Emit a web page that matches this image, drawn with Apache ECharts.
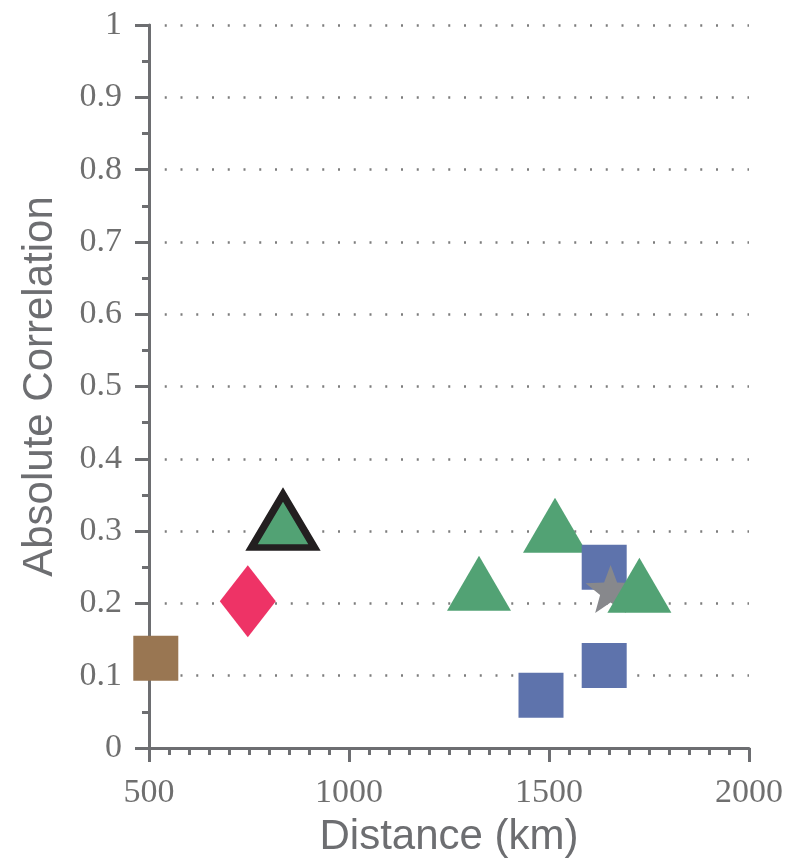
<!DOCTYPE html>
<html>
<head>
<meta charset="utf-8">
<script src="https://cdn.jsdelivr.net/npm/echarts@6/dist/echarts.min.js"></script>
<style>
html,body{margin:0;padding:0;background:#fff;}
#chart{width:788px;height:860px;}
</style>
</head>
<body>
<div id="chart"></div>
<script>
// ---- data (Distance km, Absolute Correlation) ----
var brownSquares = [[517, 0.124]];
var pinkDiamonds = [[747, 0.203]];
var greenTrianglesA = [[1325, 0.228], [1515, 0.308]];
var blueSquares = [[1638, 0.250], [1638, 0.114], [1480, 0.073]];
var grayStars = [[1654, 0.220]];
var greenTrianglesB = [[1726, 0.225]];
var outlinedTriangles = [[835, 0.314]];

var xTicks = [500, 1000, 1500, 2000];
var yTicks = [0, 0.1, 0.2, 0.3, 0.4, 0.5, 0.6, 0.7, 0.8, 0.9, 1];

// star symbol shape
function starPath(R, r) {
  var pts = [];
  for (var i = 0; i < 10; i++) {
    var a = (-90 + i * 36) * Math.PI / 180;
    var rad = (i % 2 === 0) ? R : r;
    pts.push((100 + rad * Math.cos(a)).toFixed(2) + ' ' + (100 + rad * Math.sin(a)).toFixed(2));
  }
  return 'path://M' + pts.join(' L') + ' Z';
}
var STAR = starPath(100, 42);

var axisColor = '#6d6e71';
var labelColor = '#6f6f6f';

var chart = echarts.init(document.getElementById('chart'), null, {renderer: 'canvas'});
chart.setOption({
  backgroundColor: '#ffffff',
  animation: false,
  grid: {left: 149, right: 39, top: 25, bottom: 112, containLabel: false, outerBoundsMode: 'none'},
  xAxis: {
    type: 'value',
    min: xTicks[0], max: xTicks[xTicks.length - 1], interval: 500,
    name: 'Distance (km)', nameLocation: 'middle', nameGap: 68,
    nameTextStyle: {fontFamily: 'Liberation Sans', fontSize: 42, color: axisColor},
    axisLine: {show: true, onZero: false, lineStyle: {color: axisColor, width: 3}},
    axisTick: {show: true, inside: false, length: 14, lineStyle: {color: axisColor, width: 3}},
    minorTick: {show: true, splitNumber: 10, length: 7, lineStyle: {color: axisColor, width: 3}},
    axisLabel: {margin: 28, fontFamily: 'Liberation Serif', fontSize: 34, color: labelColor,
      formatter: function (v) { return String(v); }},
    splitLine: {show: false}
  },
  yAxis: {
    type: 'value',
    min: yTicks[0], max: yTicks[yTicks.length - 1], interval: 0.1,
    name: 'Absolute Correlation', nameLocation: 'middle', nameGap: 88, nameRotate: 90,
    nameTextStyle: {fontFamily: 'Liberation Sans', fontSize: 42, color: axisColor},
    axisLine: {show: true, onZero: false, lineStyle: {color: axisColor, width: 3}},
    axisTick: {show: true, inside: false, length: 14, lineStyle: {color: axisColor, width: 3}},
    minorTick: {show: true, splitNumber: 2, length: 7, lineStyle: {color: axisColor, width: 3}},
    axisLabel: {margin: 27, fontFamily: 'Liberation Serif', fontSize: 34, color: labelColor,
      formatter: function (v) { return String(Math.round(v * 10) / 10); }},
    splitLine: {show: true, lineStyle: {color: '#7d7d7d', width: 2.5, type: [2, 13.75], dashOffset: 0}}
  },
  series: [
    {type: 'scatter', data: brownSquares, symbol: 'rect', symbolSize: 45,
      itemStyle: {color: '#997652', opacity: 1}},
    {type: 'scatter', data: pinkDiamonds, symbol: 'diamond', symbolSize: [56, 72],
      itemStyle: {color: '#ee3366', opacity: 1}},
    {type: 'scatter', data: greenTrianglesA, symbol: 'triangle', symbolSize: [64, 55],
      itemStyle: {color: '#52a274', opacity: 1}},
    {type: 'scatter', data: blueSquares, symbol: 'rect', symbolSize: 45,
      itemStyle: {color: '#5e73ac', opacity: 1}},
    {type: 'scatter', data: grayStars, symbol: STAR, symbolSize: [50, 48],
      itemStyle: {color: '#87888c', opacity: 1}},
    {type: 'scatter', data: greenTrianglesB, symbol: 'triangle', symbolSize: [64, 55],
      itemStyle: {color: '#52a274', opacity: 1}},
    {type: 'scatter', data: outlinedTriangles, symbol: 'triangle', symbolSize: [63, 53],
      itemStyle: {color: '#52a274', opacity: 1, borderColor: '#231f20', borderWidth: 7,
        borderJoin: 'miter', borderMiterLimit: 10}}
  ]
});
</script>
</body>
</html>
